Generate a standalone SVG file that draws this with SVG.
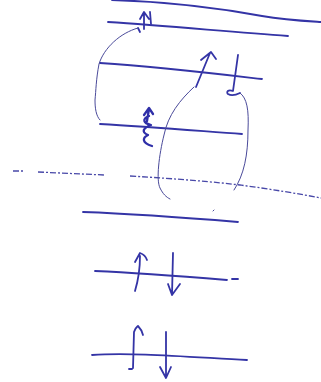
<svg xmlns="http://www.w3.org/2000/svg" width="321" height="382" viewBox="0 0 321 382">
<style>
.ink{fill:none;stroke:#3434a6;stroke-width:1.8;stroke-linecap:round;stroke-linejoin:round}
.bold{fill:none;stroke:#2f2fa8;stroke-width:2.3;stroke-linecap:round;stroke-linejoin:round}
.thin{fill:none;stroke:#4a4a9a;stroke-width:1;stroke-linecap:round}
.dash{fill:none;stroke:#4848a8;stroke-width:1.3;stroke-dasharray:6 2 2 2}
</style>
<rect width="321" height="382" fill="#ffffff"/>
<g id="levels">
<path class="ink" d="M112,0 C180,2 230,10 262,16 C285,20 305,21 321,22"/>
<path class="ink" d="M108,22 C170,26 230,32 288,36"/>
<path class="ink" d="M100,63 C160,67 210,73 262,79"/>
<path class="ink" d="M100,124 C150,127 200,131 242,134"/>
<path class="dash" d="M13,171 L24,171"/>
<path class="dash" d="M38,172 L104,175"/>
<path class="dash" d="M130,176 C180,179 215,182 240,185 C270,189 300,194 321,198"/>
<path class="ink" d="M83,212 C140,214 190,218 238,222"/>
<path class="ink" d="M95,271 C140,273 190,277 227,280"/>
<path class="ink" d="M232,279 L238,279"/>
<path class="ink" d="M92,355 C130,352 190,357 247,360"/>
</g>
<g id="arrows">
<path class="ink" d="M144,29 L144,13 M140,19 L144,12 L149,19 M150,12 L151,24"/>
<path class="ink" d="M138,28 L140,32"/>
<path class="thin" d="M100,120 C96,116 95,108 95,100 C96,90 96,80 99,64 C104,48 120,33 138,28"/>
<path class="ink" d="M196,87 L210,53 M201,60 L211,52 L216,59"/>
<path class="ink" d="M238,55 L233,91 C228,89 226,92 228,94 C231,96 236,95 240,93"/>
<path class="thin" d="M240,93 C247,98 249,110 248,130 C248,155 244,175 234,190"/>
<path class="thin" d="M194,87 C180,100 168,115 164,135 C159,155 156,180 160,188 C163,194 166,197 170,199"/>
<path class="bold" d="M147,121 L149,109 M144,115 L149,108 L153,114 M149,116 C142,119 143,123 151,125 C143,128 141,132 148,135 C142,138 142,143 152,146"/>
<path class="thin" d="M213,211 L214,210"/>
<path class="ink" d="M135,291 C138,281 140,270 140,256 M135,262 L140,253 C143,254 146,257 147,260"/>
<path class="ink" d="M173,253 L172,295 M168,284 L172,295 L180,284"/>
<path class="ink" d="M133,368 L134,332 C135,328 137,327 138,326 C140,328 142,331 143,335 M129,369 L132,369"/>
<path class="ink" d="M166,332 L166,377 M160,367 L166,378 L171,367"/>
</g>
</svg>
